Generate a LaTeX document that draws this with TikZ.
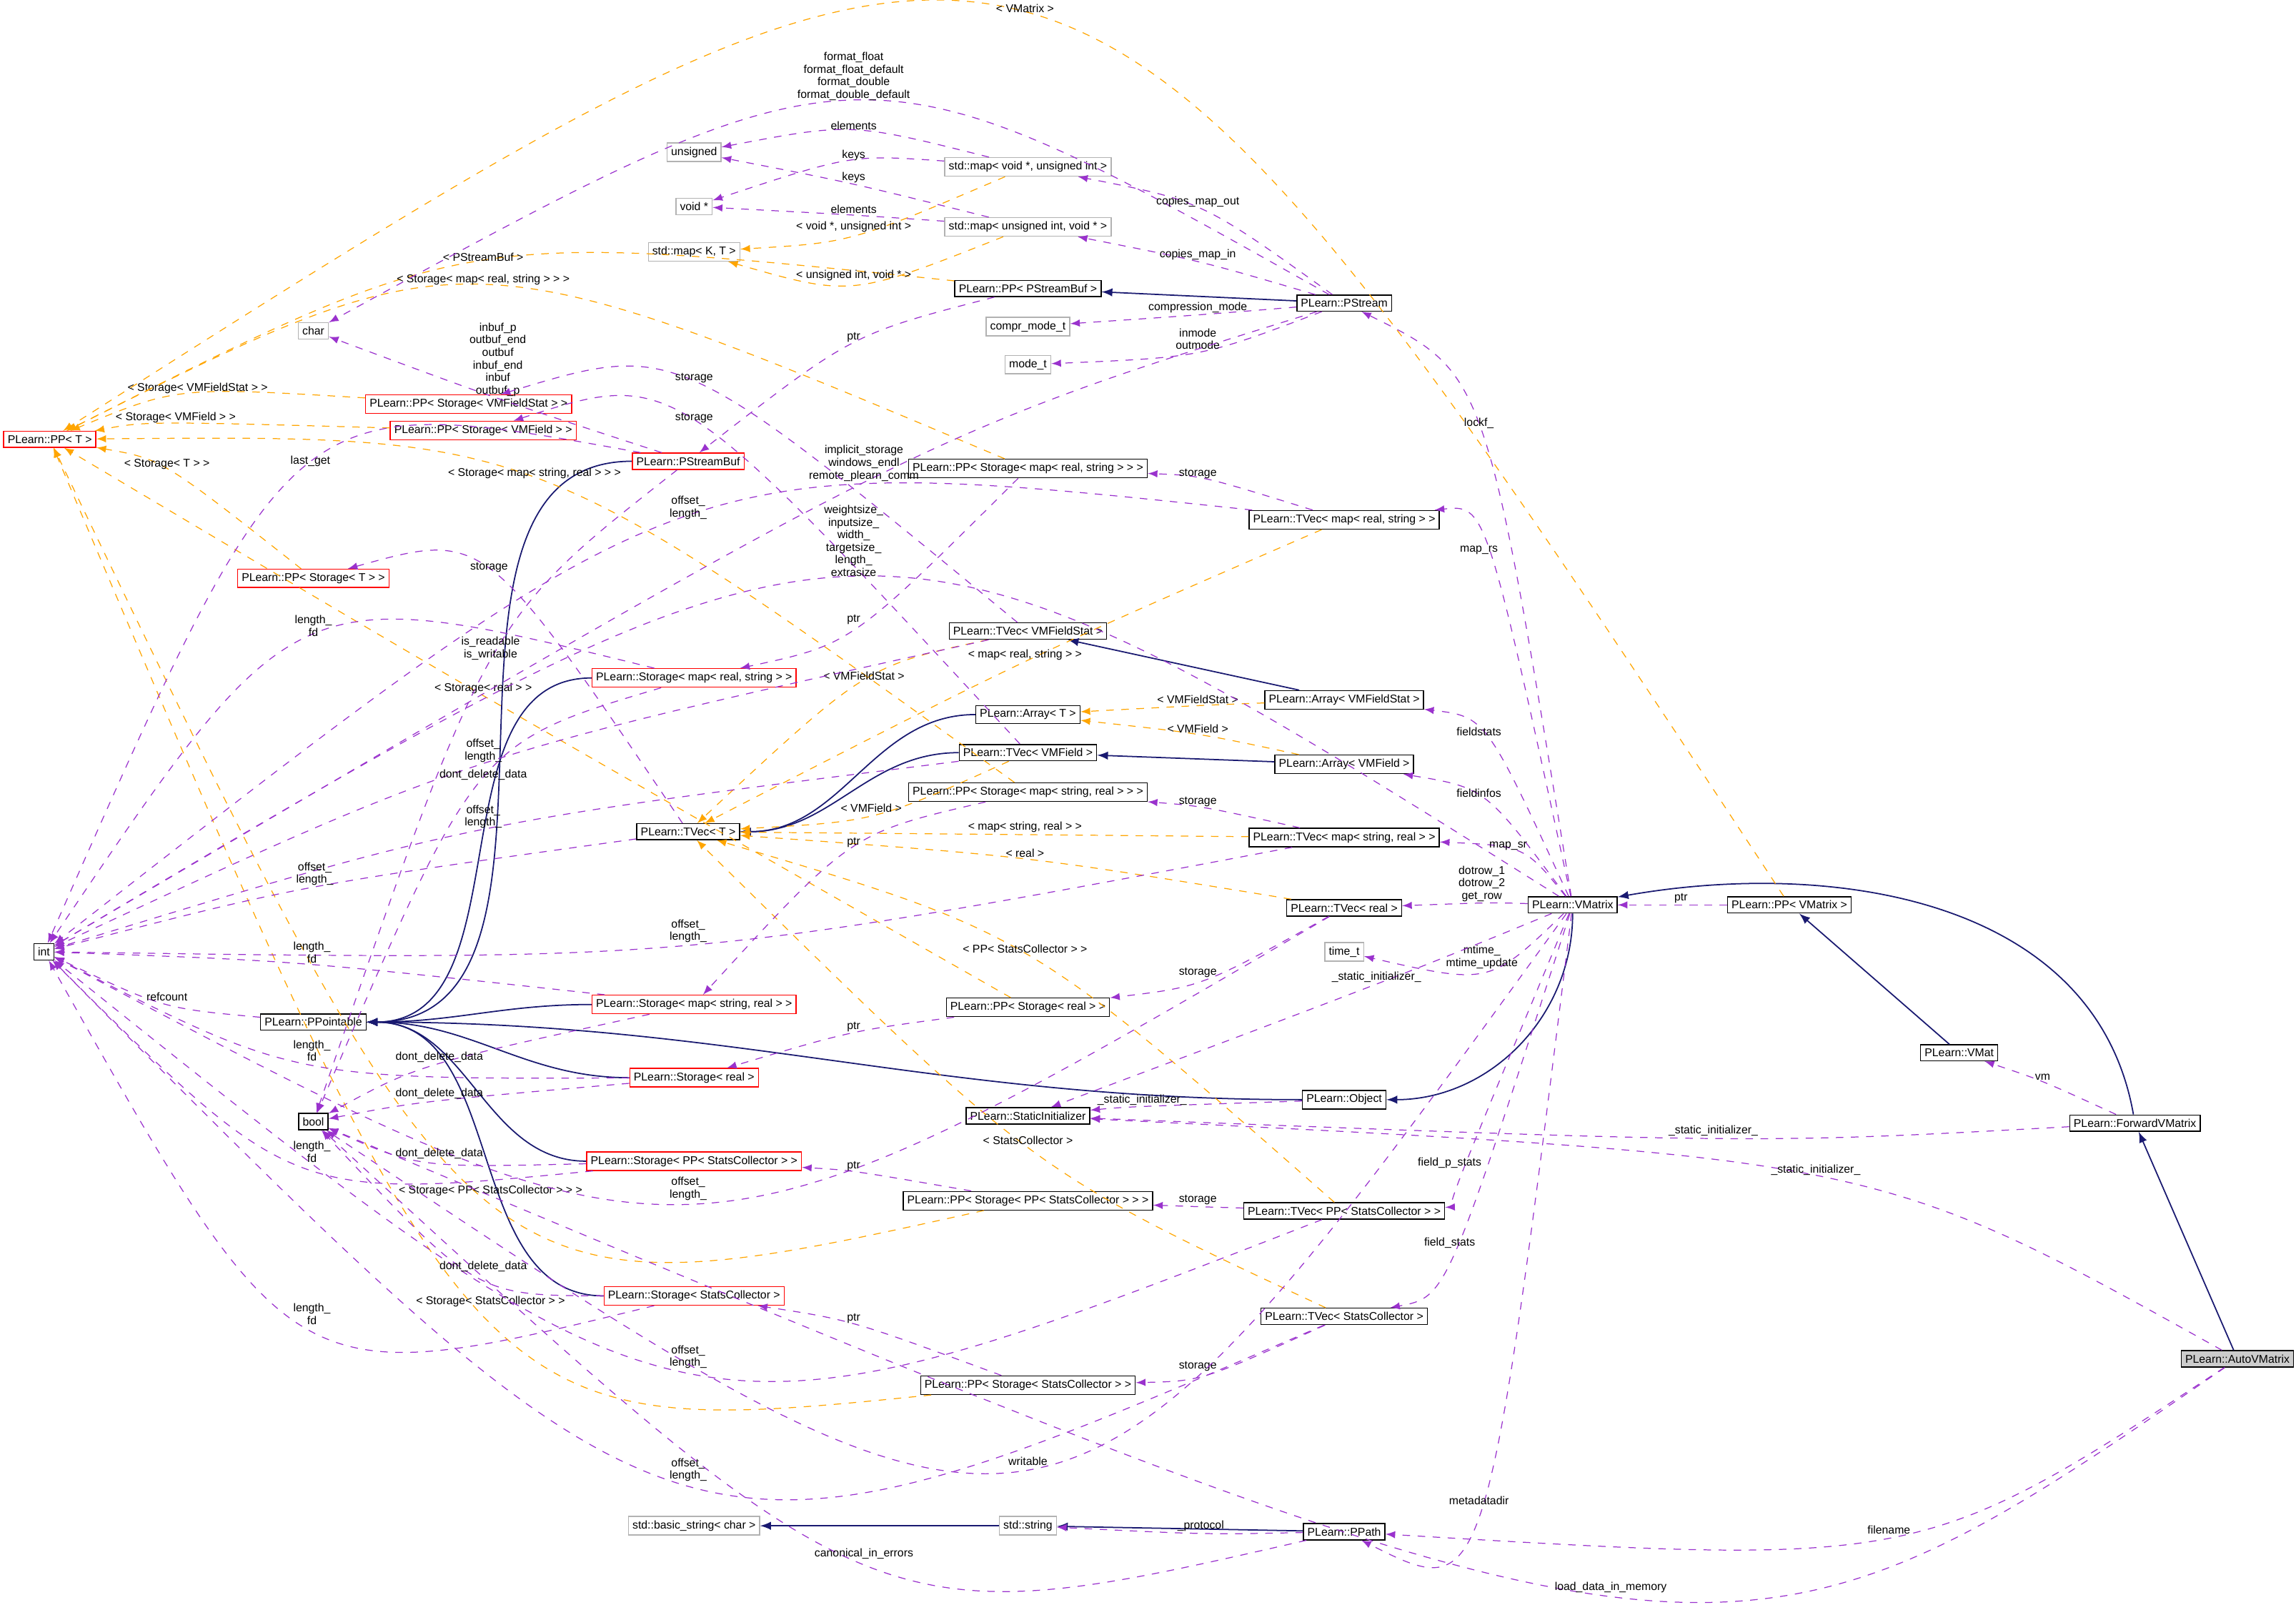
\documentclass[tikz,border=0pt]{standalone}
\usepackage{fontspec}
\setmainfont{Liberation Sans}
\usepackage{tikz}
\usetikzlibrary{positioning,calc}
\definecolor{usecol}{HTML}{9A32CD}
\definecolor{tplcol}{HTML}{FFA500}
\definecolor{inhcol}{HTML}{191970}
\tikzset{
  cls/.style={draw=black,rectangle,inner sep=1.6pt,font=\fontsize{4.5}{5}\selectfont},
  ext/.style={cls,draw=gray!60},
  tplbox/.style={cls,draw=red},
  lbl/.style={font=\fontsize{4.5}{5}\selectfont,align=center,inner sep=0.6pt,above},
  uses/.style={usecol,dashed,-latex,line width=0.35pt},
  tpl/.style={tplcol,dashed,-latex,line width=0.35pt},
  inh/.style={inhcol,-latex,line width=0.5pt}
}
% relation through a label point
\newcommand\rel[5][uses]{%
  \path (#2.center) -- coordinate[midway] (m) (#5.center);
  \draw[#1] (#2) .. controls ($(m)!1.333!(#3)$) .. (#5);
  \node[lbl] at (#3) {#4};}
\begin{document}
\begin{tikzpicture}[x=0.02049cm,y=-0.02049cm]
\useasboundingbox (0,0) rectangle (1568,1106);

% plain types
\node[cls] (int) at (30,650) {int};
\node[cls] (bool) at (214,766) {bool};
\node[ext] (chr) at (214,226) {char};
\node[ext] (unsgn) at (474,104) {unsigned};
\node[ext] (voidp) at (474,141) {void *};
\node[ext] (mapKT) at (474,172) {std::map< K, T >};
\node[ext] (comprmode) at (702,223) {compr\_mode\_t};
\node[ext] (modet) at (702,249) {mode\_t};
\node[ext] (timet) at (918,650) {time\_t};
\node[ext] (basicstr) at (474,1042) {std::basic\_string< char >};
\node[ext] (stdstr) at (702,1042) {std::string};
\node[ext] (mapVU) at (702,114) {std::map< void *, unsigned int >};
\node[ext] (mapUV) at (702,155) {std::map< unsigned int, void * >};

% templates and storages
\node[tplbox] (ppT) at (34,300) {PLearn::PP< T >};
\node[tplbox] (ppsVMFS) at (320,276) {PLearn::PP< Storage< VMFieldStat > >};
\node[tplbox] (ppsVMF) at (330,294) {PLearn::PP< Storage< VMField > >};
\node[tplbox] (psbuf) at (470,315) {PLearn::PStreamBuf};
\node[tplbox] (ppsT) at (214,395) {PLearn::PP< Storage< T > >};
\node[tplbox] (stMRS) at (474,463) {PLearn::Storage< map< real, string > >};
\node[tplbox] (stMSR) at (474,686) {PLearn::Storage< map< string, real > >};
\node[tplbox] (stReal) at (474,736) {PLearn::Storage< real >};
\node[tplbox] (stPPSC) at (474,793) {PLearn::Storage< PP< StatsCollector > >};
\node[tplbox] (stSC) at (474,885) {PLearn::Storage< StatsCollector >};

% classes
\node[cls] (ppointable) at (214,698) {PLearn::PPointable};
\node[cls] (tvecT) at (470,568) {PLearn::TVec< T >};
\node[cls] (ppPSB) at (702,197) {PLearn::PP< PStreamBuf >};
\node[cls] (ppsMRS) at (702,320) {PLearn::PP< Storage< map< real, string > > >};
\node[cls] (tvecVMFS) at (702,431) {PLearn::TVec< VMFieldStat >};
\node[cls] (arrT) at (702,488) {PLearn::Array< T >};
\node[cls] (tvecVMF) at (702,514) {PLearn::TVec< VMField >};
\node[cls] (ppsMSR) at (702,541) {PLearn::PP< Storage< map< string, real > > >};
\node[cls] (ppsReal) at (702,688) {PLearn::PP< Storage< real > >};
\node[cls] (staticinit) at (702,762) {PLearn::StaticInitializer};
\node[cls] (ppsPPSC) at (702,820) {PLearn::PP< Storage< PP< StatsCollector > > >};
\node[cls] (ppsSC) at (702,946) {PLearn::PP< Storage< StatsCollector > >};
\node[cls] (pstream) at (918,207) {PLearn::PStream};
\node[cls] (tvecMRS) at (918,355) {PLearn::TVec< map< real, string > >};
\node[cls] (arrVMFS) at (918,478) {PLearn::Array< VMFieldStat >};
\node[cls] (arrVMF) at (918,522) {PLearn::Array< VMField >};
\node[cls] (tvecMSR) at (918,572) {PLearn::TVec< map< string, real > >};
\node[cls] (tvecReal) at (918,620) {PLearn::TVec< real >};
\node[cls] (object) at (918,751) {PLearn::Object};
\node[cls] (tvecPPSC) at (918,827) {PLearn::TVec< PP< StatsCollector > >};
\node[cls] (tvecSC) at (918,899) {PLearn::TVec< StatsCollector >};
\node[cls] (ppath) at (918,1046) {PLearn::PPath};
\node[cls] (vmatrix) at (1074,618) {PLearn::VMatrix};
\node[cls] (ppVM) at (1222,618) {PLearn::PP< VMatrix >};
\node[cls] (vmat) at (1338,719) {PLearn::VMat};
\node[cls] (fwdvm) at (1458,767) {PLearn::ForwardVMatrix};
\node[cls,fill=gray!40] (autovm) at (1528,928) {PLearn::AutoVMatrix};

% inheritance
\draw[inh] (pstream) -- (ppPSB);
\foreach \s in {psbuf,stMRS,stMSR,stReal,stPPSC,stSC,object}
  \draw[inh] (\s) to[out=180,in=0] (ppointable);
\draw[inh] (arrT) to[out=180,in=0] (tvecT);
\draw[inh] (tvecVMF) to[out=180,in=0] (tvecT);
\draw[inh] (arrVMFS) -- (tvecVMFS);
\draw[inh] (arrVMF) -- (tvecVMF);
\draw[inh] (vmatrix) to[out=-90,in=0] (object);
\draw[inh] (fwdvm) to[out=100,in=10] (vmatrix);
\draw[inh] (vmat) -- (ppVM);
\draw[inh] (autovm) -- (fwdvm);
\draw[inh] (stdstr) -- (basicstr);
\draw[inh] (ppath) -- (stdstr);

% template instances
\rel[tpl]{ppsVMFS}{135,270}{< Storage< VMFieldStat > >}{ppT}
\rel[tpl]{ppsVMF}{120,290}{< Storage< VMField > >}{ppT}
\rel[tpl]{ppsT}{114,322}{< Storage< T > >}{ppT}
\rel[tpl]{ppPSB}{330,180}{< PStreamBuf >}{ppT}
\rel[tpl]{ppsMRS}{330,196}{< Storage< map< real, string > > >}{ppT}
\rel[tpl]{ppVM}{700,10}{< VMatrix >}{ppT}
\rel[tpl]{ppsMSR}{365,328}{< Storage< map< string, real > > >}{ppT}
\rel[tpl]{ppsReal}{330,475}{< Storage< real > >}{ppT}
\rel[tpl]{ppsPPSC}{335,818}{< Storage< PP< StatsCollector > > >}{ppT}
\rel[tpl]{ppsSC}{335,894}{< Storage< StatsCollector > >}{ppT}
\rel[tpl]{mapVU}{583,160}{< void *, unsigned int >}{mapKT}
\rel[tpl]{mapUV}{583,193}{< unsigned int, void * >}{mapKT}
\rel[tpl]{tvecVMFS}{590,466}{< VMFieldStat >}{tvecT}
\rel[tpl]{tvecMRS}{700,452}{< map< real, string > >}{tvecT}
\rel[tpl]{tvecVMF}{595,556}{< VMField >}{tvecT}
\rel[tpl]{tvecMSR}{700,570}{< map< string, real > >}{tvecT}
\rel[tpl]{tvecReal}{700,587}{< real >}{tvecT}
\rel[tpl]{tvecPPSC}{700,652}{< PP< StatsCollector > >}{tvecT}
\rel[tpl]{tvecSC}{702,783}{< StatsCollector >}{tvecT}
\rel[tpl]{arrVMFS}{818,482}{< VMFieldStat >}{arrT}
\rel[tpl]{arrVMF}{818,502}{< VMField >}{arrT}

% usage
\rel{mapVU}{583,90}{elements}{unsgn}
\rel{mapVU}{583,111}{keys}{voidp}
\rel{mapUV}{583,126}{keys}{unsgn}
\rel{mapUV}{583,147}{elements}{voidp}
\rel{pstream}{583,70}{format\_float\\format\_float\_default\\format\_double\\format\_double\_default}{chr}
\rel{pstream}{818,143}{copies\_map\_out}{mapVU}
\rel{pstream}{818,179}{copies\_map\_in}{mapUV}
\rel{pstream}{818,215}{compression\_mode}{comprmode}
\rel{pstream}{818,240}{inmode\\outmode}{modet}
\rel{pstream}{590,330}{implicit\_storage\\windows\_endl\\remote\_plearn\_comm}{int}
\rel{ppPSB}{583,235}{ptr}{psbuf}
\rel{psbuf}{340,272}{inbuf\_p\\outbuf\_end\\outbuf\\inbuf\_end\\inbuf\\outbuf\_p}{chr}
\rel{psbuf}{212,320}{last\_get}{int}
\rel{psbuf}{335,452}{is\_readable\\is\_writable}{bool}
\rel{tvecVMFS}{474,263}{storage}{ppsVMFS}
\rel{tvecVMF}{474,290}{storage}{ppsVMF}
\rel{tvecMRS}{818,328}{storage}{ppsMRS}
\rel{ppsMRS}{583,428}{ptr}{stMRS}
\rel{tvecMRS}{470,356}{offset\_\\length\_}{int}
\rel{tvecVMFS}{330,522}{offset\_\\length\_}{int}
\rel{tvecVMF}{330,567}{offset\_\\length\_}{int}
\rel{tvecT}{334,392}{storage}{ppsT}
\rel{tvecT}{215,606}{offset\_\\length\_}{int}
\rel{tvecMSR}{818,552}{storage}{ppsMSR}
\rel{ppsMSR}{583,580}{ptr}{stMSR}
\rel{tvecMSR}{470,645}{offset\_\\length\_}{int}
\rel{tvecReal}{818,669}{storage}{ppsReal}
\rel{ppsReal}{583,706}{ptr}{stReal}
\rel{tvecReal}{470,821}{offset\_\\length\_}{int}
\rel{tvecPPSC}{818,824}{storage}{ppsPPSC}
\rel{ppsPPSC}{583,801}{ptr}{stPPSC}
\rel{tvecPPSC}{470,936}{offset\_\\length\_}{int}
\rel{tvecSC}{818,938}{storage}{ppsSC}
\rel{ppsSC}{583,905}{ptr}{stSC}
\rel{tvecSC}{470,1013}{offset\_\\length\_}{int}
\rel{stMRS}{214,436}{length\_\\fd}{int}
\rel{stMRS}{330,534}{dont\_delete\_data}{bool}
\rel{stMSR}{213,659}{length\_\\fd}{int}
\rel{stMSR}{300,727}{dont\_delete\_data}{bool}
\rel{stReal}{213,726}{length\_\\fd}{int}
\rel{stReal}{300,752}{dont\_delete\_data}{bool}
\rel{stPPSC}{213,795}{length\_\\fd}{int}
\rel{stPPSC}{300,793}{dont\_delete\_data}{bool}
\rel{stSC}{213,906}{length\_\\fd}{int}
\rel{stSC}{330,870}{dont\_delete\_data}{bool}
\rel{ppointable}{114,685}{refcount}{int}
\rel{object}{780,756}{\_static\_initializer\_}{staticinit}
\rel{vmatrix}{1010,294}{lockf\_}{pstream}
\rel{vmatrix}{1010,380}{map\_rs}{tvecMRS}
\rel{vmatrix}{583,395}{weightsize\_\\inputsize\_\\width\_\\targetsize\_\\length\_\\extrasize}{int}
\rel{vmatrix}{1010,504}{fieldstats}{arrVMFS}
\rel{vmatrix}{1010,546}{fieldinfos}{arrVMF}
\rel{vmatrix}{1030,582}{map\_sr}{tvecMSR}
\rel{vmatrix}{1012,617}{dotrow\_1\\dotrow\_2\\get\_row}{tvecReal}
\rel{vmatrix}{1012,663}{mtime\_\\mtime\_update}{timet}
\rel{vmatrix}{940,672}{\_static\_initializer\_}{staticinit}
\rel{vmatrix}{990,799}{field\_p\_stats}{tvecPPSC}
\rel{vmatrix}{990,854}{field\_stats}{tvecSC}
\rel{vmatrix}{702,1002}{writable}{bool}
\rel{vmatrix}{1010,1029}{metadatadir}{ppath}
\rel{ppVM}{1148,618}{ptr}{vmatrix}
\rel{fwdvm}{1395,739}{vm}{vmat}
\rel{fwdvm}{1170,777}{\_static\_initializer\_}{staticinit}
\rel{autovm}{1240,804}{\_static\_initializer\_}{staticinit}
\rel{autovm}{1290,1049}{filename}{ppath}
\rel{autovm}{1100,1089}{load\_data\_in\_memory}{bool}
\rel{ppath}{820,1047}{\_protocol}{stdstr}
\rel{ppath}{590,1066}{canonical\_in\_errors}{bool}
\end{tikzpicture}
\end{document}
